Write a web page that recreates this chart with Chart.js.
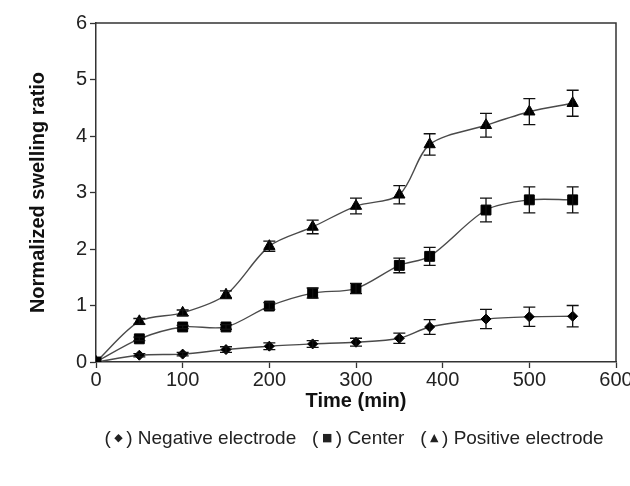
<!DOCTYPE html>
<html>
<head>
<meta charset="utf-8">
<script src="https://cdn.jsdelivr.net/npm/chart.js@4.4.1/dist/chart.umd.min.js"></script>
<style>
  html, body { margin: 0; padding: 0; background: #fff; }
  #wrap { width: 630px; height: 486px; }
</style>
</head>
<body>
<div id="wrap"><canvas id="chart" width="630" height="486"></canvas></div>
<script>
// Swelling ratio vs time
const times = [0, 50, 100, 150, 200, 250, 300, 350, 385, 450, 500, 550];
const negative = [0, 0.12, 0.14, 0.22, 0.28, 0.32, 0.35, 0.42, 0.62, 0.76, 0.80, 0.81];
const negativeErr = [0, 0.03, 0.03, 0.05, 0.06, 0.06, 0.07, 0.09, 0.13, 0.17, 0.17, 0.19];
const center = [0, 0.41, 0.62, 0.62, 0.99, 1.22, 1.30, 1.71, 1.87, 2.69, 2.87, 2.87];
const centerErr = [0, 0.03, 0.03, 0.04, 0.06, 0.09, 0.09, 0.13, 0.16, 0.21, 0.23, 0.23];
const positive = [0, 0.72, 0.87, 1.19, 2.05, 2.39, 2.76, 2.96, 3.85, 4.19, 4.43, 4.58];
const positiveErr = [0, 0.05, 0.05, 0.07, 0.09, 0.12, 0.14, 0.16, 0.19, 0.21, 0.23, 0.23];
const xTicks = [0, 100, 200, 300, 400, 500, 600];
const yTicks = [0, 1, 2, 3, 4, 5, 6];
const captionParts = [
    { sym: '◆', label: 'Negative electrode' },
    { sym: '■', label: 'Center' },
    { sym: '▲', label: 'Positive electrode' }
];

const FONT = '"Liberation Sans", Arial, sans-serif';
const AXIS = '#333';

function toXY(ys) {
    return times.map((t, i) => ({ x: t, y: ys[i] }));
}

function series(label, ys, errs, style, radius) {
    return {
        label,
        data: toXY(ys),
        errors: errs,
        borderColor: '#4a4a4a',
        borderWidth: 1.4,
        tension: 0.3,
        pointStyle: style,
        pointRadius: radius,
        pointBackgroundColor: '#000',
        pointBorderColor: '#000',
        pointBorderWidth: 1,
        fill: false
    };
}

// error bars drawn through the y scale
const errorBars = {
    id: 'errorBars',
    afterDatasetsDraw(chart) {
        const { ctx, scales: { y } } = chart;
        ctx.save();
        ctx.strokeStyle = '#111';
        ctx.lineWidth = 1.3;
        chart.data.datasets.forEach((ds, di) => {
            const meta = chart.getDatasetMeta(di);
            meta.data.forEach((pt, i) => {
                const e = ds.errors[i];
                if (!e) return;
                const v = ds.data[i].y;
                const top = y.getPixelForValue(v + e);
                const bot = y.getPixelForValue(v - e);
                const cap = 6;
                ctx.beginPath();
                ctx.moveTo(pt.x, top); ctx.lineTo(pt.x, bot);
                ctx.moveTo(pt.x - cap, top); ctx.lineTo(pt.x + cap, top);
                ctx.moveTo(pt.x - cap, bot); ctx.lineTo(pt.x + cap, bot);
                ctx.stroke();
            });
        });
        ctx.restore();
    }
};

// box around the plot + caption under the axis title
const frameAndCaption = {
    id: 'frameAndCaption',
    afterDraw(chart) {
        const { ctx, chartArea: a } = chart;
        ctx.save();
        ctx.strokeStyle = AXIS;
        ctx.lineWidth = 1.5;
        ctx.beginPath();
        ctx.moveTo(a.left, a.top); ctx.lineTo(a.right, a.top); ctx.lineTo(a.right, a.bottom);
        ctx.stroke();

        const bigFont = '19px ' + FONT;
        const symFont = '11px "DejaVu Sans", sans-serif';
        const segs = [];
        captionParts.forEach((p, i) => {
            segs.push({ t: (i ? '   (' : '('), f: bigFont });
            segs.push({ t: ' ' + p.sym + ' ', f: symFont });
            segs.push({ t: ') ' + p.label, f: bigFont });
        });
        let total = 0;
        segs.forEach(s => { ctx.font = s.f; s.w = ctx.measureText(s.t).width; total += s.w; });
        let x = (a.left + a.right) / 2 - total / 2 - 2;
        const y = a.bottom + 77;
        ctx.fillStyle = '#222';
        ctx.textBaseline = 'middle';
        ctx.textAlign = 'left';
        segs.forEach(s => {
            ctx.font = s.f;
            ctx.fillText(s.t, x, s.f === symFont ? y - 1 : y);
            x += s.w;
        });
        ctx.restore();
    }
};

const ctx = document.getElementById('chart').getContext('2d');
new Chart(ctx, {
    type: 'line',
    data: {
        datasets: [
            series('Center', center, centerErr, 'rect', 7),
            series('Negative electrode', negative, negativeErr, 'rectRot', 5),
            series('Positive electrode', positive, positiveErr, 'triangle', 6.5)
        ]
    },
    options: {
        responsive: false,
        animation: false,
        layout: { padding: { top: 23, right: 14, left: 0, bottom: 0 } },
        plugins: {
            legend: { display: false },
            tooltip: { enabled: false }
        },
        scales: {
            x: {
                type: 'linear',
                min: xTicks[0],
                max: xTicks[xTicks.length - 1],
                afterBuildTicks: s => { s.ticks = xTicks.map(v => ({ value: v })); },
                afterFit: s => { s.height = 124; s.paddingLeft = 0; s.paddingRight = 0; },
                grid: { drawOnChartArea: false, drawTicks: true, tickLength: 6, tickColor: AXIS, tickWidth: 1.3 },
                border: { display: true, color: AXIS, width: 1.5 },
                ticks: { color: '#222', font: { family: FONT, size: 20 }, padding: 0, maxRotation: 0 },
                title: {
                    display: true,
                    text: 'Time (min)',
                    color: '#111',
                    font: { family: FONT, size: 20, weight: 'bold' },
                    padding: { top: 0, bottom: 73 }
                }
            },
            y: {
                type: 'linear',
                min: yTicks[0],
                max: yTicks[yTicks.length - 1],
                afterBuildTicks: s => { s.ticks = yTicks.map(v => ({ value: v })); },
                afterFit: s => { s.width = 96; s.paddingTop = 0; s.paddingBottom = 0; },
                grid: { drawOnChartArea: false, drawTicks: true, tickLength: 6, tickColor: AXIS, tickWidth: 1.3 },
                border: { display: true, color: AXIS, width: 1.5 },
                ticks: { color: '#222', font: { family: FONT, size: 20 }, padding: 3 },
                title: {
                    display: true,
                    text: 'Normalized swelling ratio',
                    color: '#111',
                    font: { family: FONT, size: 20, weight: 'bold' },
                    padding: { top: 26, bottom: 0 }
                }
            }
        }
    },
    plugins: [errorBars, frameAndCaption]
});
</script>
</body>
</html>
